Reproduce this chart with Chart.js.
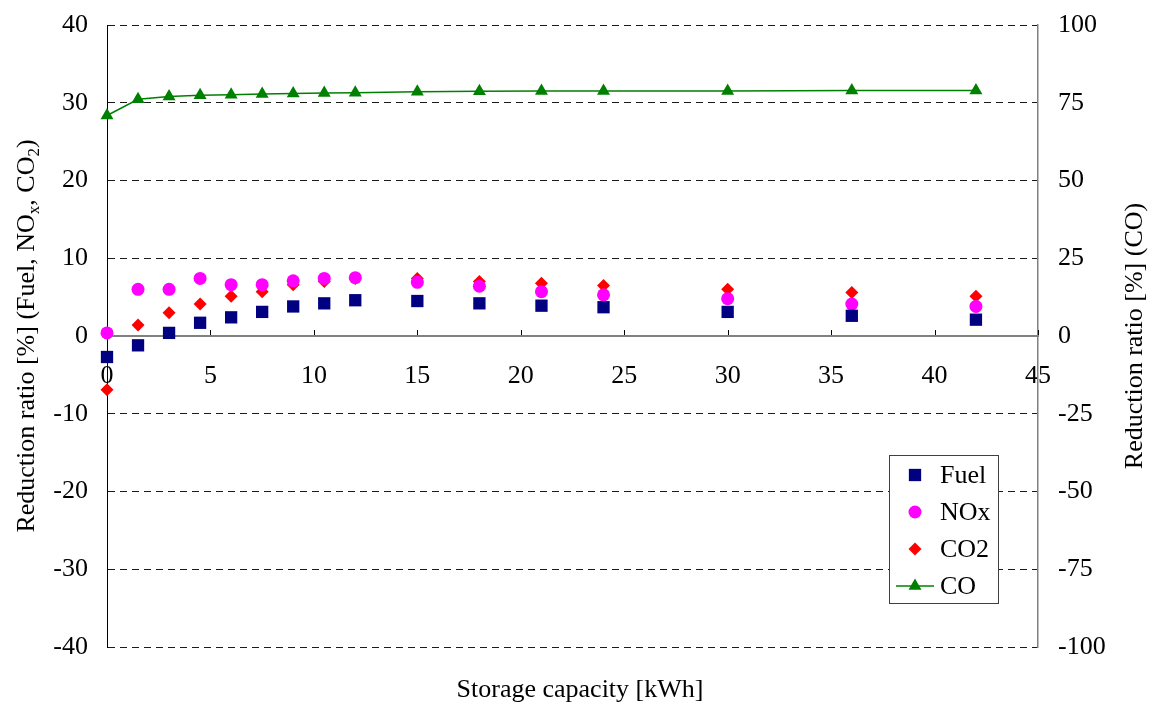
<!DOCTYPE html>
<html>
<head>
<meta charset="utf-8">
<title>Reduction ratio vs storage capacity</title>
<script src="https://cdn.jsdelivr.net/npm/chart.js@4/dist/chart.umd.min.js"></script>
<style>
  html, body { margin: 0; padding: 0; background: #fff; }
  canvas { display: block; }
</style>
</head>
<body>
<canvas id="chart" width="1153" height="708"></canvas>
<script>
// Storage capacity [kWh]
const capacity = [0, 1.5, 3, 4.5, 6, 7.5, 9, 10.5, 12, 15, 18, 21, 24, 30, 36, 42];
// Reduction ratios [%], left axis
const fuel = [-2.7, -1.2, 0.4, 1.7, 2.4, 3.1, 3.8, 4.2, 4.6, 4.5, 4.2, 3.9, 3.7, 3.1, 2.6, 2.1];
const nox  = [0.4, 6.0, 6.0, 7.4, 6.6, 6.6, 7.1, 7.4, 7.5, 6.9, 6.4, 5.7, 5.3, 4.8, 4.1, 3.8];
const co2  = [-6.9, 1.4, 3.0, 4.1, 5.1, 5.7, 6.6, 7.0, 7.4, 7.4, 7.0, 6.8, 6.5, 6.0, 5.6, 5.1];
// Reduction ratio [%], right axis
const co   = [70.9, 76.1, 77.0, 77.4, 77.6, 77.8, 78.0, 78.1, 78.2, 78.5, 78.7, 78.8, 78.8, 78.8, 78.9, 78.9];

// Axis ranges and tick spacing
const xRange = [0, 45, 5];
const leftRange = [-40, 40, 10];
const rightRange = [-100, 100, 25];

// Text
const seriesNames = ['Fuel', 'NOx', 'CO2', 'CO'];
const xTitle = 'Storage capacity [kWh]';
const leftTitle = [
  { t: 'Reduction ratio [%] (Fuel, NO' }, { t: 'x', sub: true },
  { t: ', CO' }, { t: '2', sub: true }, { t: ')' }
];
const rightTitle = [{ t: 'Reduction ratio [%] (CO)' }];

const FONT = '"Liberation Serif", "Times New Roman", serif';
const FS = 26;

const pts = (ys) => capacity.map((x, i) => ({ x: x, y: ys[i] }));

// Point drawing (library helper, with a tiny fallback)
function drawMarker(ctx, style, r, x, y) {
  if (Chart.helpers && Chart.helpers.drawPoint) {
    Chart.helpers.drawPoint(ctx, { pointStyle: style, radius: r, rotation: 0, borderWidth: 0 }, x, y);
    return;
  }
  ctx.beginPath();
  if (style === 'rect') { const s = r * Math.SQRT1_2; ctx.rect(x - s, y - s, 2 * s, 2 * s); }
  else if (style === 'rectRot') { ctx.moveTo(x - r, y); ctx.lineTo(x, y - r); ctx.lineTo(x + r, y); ctx.lineTo(x, y + r); ctx.closePath(); }
  else if (style === 'triangle') { ctx.moveTo(x, y - r); ctx.lineTo(x + r * 0.866, y + r / 2); ctx.lineTo(x - r * 0.866, y + r / 2); ctx.closePath(); }
  else { ctx.arc(x, y, r, 0, Math.PI * 2); }
  ctx.fill();
}

// Draws a run of text segments with subscripts, centred on the origin, baseline at y = 0
function drawRich(ctx, segs) {
  const subSize = Math.round(FS * 0.65);
  const fontFor = (s) => (s.sub ? subSize : FS) + 'px ' + FONT;
  let total = 0;
  segs.forEach(s => { ctx.font = fontFor(s); total += ctx.measureText(s.t).width; });
  let x = -total / 2;
  ctx.textAlign = 'left';
  ctx.textBaseline = 'alphabetic';
  segs.forEach(s => {
    ctx.font = fontFor(s);
    ctx.fillText(s.t, x, s.sub ? 5 : 0);
    x += ctx.measureText(s.t).width;
  });
}

// Axis titles
const titlesPlugin = {
  id: 'axisTitles',
  afterDraw(chart) {
    const ctx = chart.ctx;
    const area = chart.chartArea;
    const midY = (area.top + area.bottom) / 2;
    ctx.save();
    ctx.fillStyle = '#000';
    ctx.font = FS + 'px ' + FONT;
    ctx.textAlign = 'center';
    ctx.textBaseline = 'alphabetic';
    ctx.fillText(xTitle, 580, 697);

    ctx.save();
    ctx.translate(34, midY);
    ctx.rotate(-Math.PI / 2);
    drawRich(ctx, leftTitle);
    ctx.restore();

    ctx.save();
    ctx.translate(1142, midY);
    ctx.rotate(-Math.PI / 2);
    drawRich(ctx, rightTitle);
    ctx.restore();
    ctx.restore();
  }
};

// Small upward tick marks on the x axis, which sits at y = 0
const xTickMarks = {
  id: 'xTickMarks',
  beforeDatasetsDraw(chart) {
    const xs = chart.scales.x;
    const y0 = Math.round(chart.scales.y.getPixelForValue(0));
    const ctx = chart.ctx;
    ctx.save();
    ctx.strokeStyle = '#000';
    ctx.lineWidth = 1;
    ctx.beginPath();
    xs.ticks.forEach(t => {
      if (t.value <= xRange[0]) return;
      const px = Math.round(xs.getPixelForValue(t.value)) + 0.5;
      ctx.moveTo(px, y0 - 1);
      ctx.lineTo(px, y0 - 6);
    });
    ctx.stroke();
    ctx.restore();
  }
};

// Boxed legend inside the plot
const insetLegend = {
  id: 'insetLegend',
  afterDraw(chart) {
    const ctx = chart.ctx;
    const bx = 889.5, by = 455.5, bw = 109, bh = 148;
    const rows = [475, 512, 549, 586];
    const mx = 915, tx = 940;
    ctx.save();
    ctx.fillStyle = '#fff';
    ctx.fillRect(bx, by, bw, bh);
    ctx.strokeStyle = '#404040';
    ctx.lineWidth = 1;
    ctx.strokeRect(bx, by, bw, bh);
    chart.data.datasets.forEach((ds, i) => {
      const y = rows[i];
      if (ds.showLine) {
        ctx.strokeStyle = ds.borderColor;
        ctx.lineWidth = ds.borderWidth;
        ctx.beginPath();
        ctx.moveTo(mx - 19, y);
        ctx.lineTo(mx + 19, y);
        ctx.stroke();
      }
      ctx.fillStyle = ds.backgroundColor;
      drawMarker(ctx, ds.pointStyle, ds.pointRadius, mx, y);
      ctx.fillStyle = '#000';
      ctx.font = FS + 'px ' + FONT;
      ctx.textAlign = 'left';
      ctx.textBaseline = 'middle';
      ctx.fillText(ds.label, tx, y + 1);
    });
    ctx.restore();
  }
};

// Keep the value axes from pushing the plot edges inward for their end labels
const noEndPadding = (s, width) => {
  s.width = width;
  s.paddingTop = 0;
  s.paddingBottom = 0;
};

new Chart(document.getElementById('chart'), {
  type: 'scatter',
  data: {
    datasets: [
      { label: seriesNames[0], data: pts(fuel), yAxisID: 'y', showLine: false, clip: false,
        pointStyle: 'rect', pointRadius: 8.7, backgroundColor: '#000080', borderColor: '#000080', pointBorderWidth: 0 },
      { label: seriesNames[1], data: pts(nox), yAxisID: 'y', showLine: false, clip: false,
        pointStyle: 'circle', pointRadius: 6.5, backgroundColor: '#ff00ff', borderColor: '#ff00ff', pointBorderWidth: 0 },
      { label: seriesNames[2], data: pts(co2), yAxisID: 'y', showLine: false, clip: false,
        pointStyle: 'rectRot', pointRadius: 6.5, backgroundColor: '#ff0000', borderColor: '#ff0000', pointBorderWidth: 0 },
      { label: seriesNames[3], data: pts(co), yAxisID: 'y1', showLine: true, clip: false, tension: 0,
        pointStyle: 'triangle', pointRadius: 7.5, backgroundColor: '#008000', borderColor: '#008000',
        borderWidth: 1.5, pointBorderWidth: 0 }
    ]
  },
  options: {
    responsive: false,
    animation: false,
    events: [],
    devicePixelRatio: 1,
    layout: { padding: { top: 25, bottom: 61, left: 0, right: 0 } },
    plugins: { legend: { display: false }, tooltip: { enabled: false }, title: { display: false } },
    scales: {
      x: {
        type: 'linear',
        position: { y: 0 },
        min: xRange[0], max: xRange[1],
        ticks: { stepSize: xRange[2], maxRotation: 0, autoSkip: false, padding: 25, color: '#000',
                 font: { family: FONT, size: FS } },
        grid: { display: true, drawOnChartArea: false, drawTicks: false },
        border: { display: true, color: '#808080', width: 2 }
      },
      y: {
        type: 'linear',
        position: 'left',
        min: leftRange[0], max: leftRange[1],
        ticks: { stepSize: leftRange[2], padding: 19, color: '#000', font: { family: FONT, size: FS } },
        grid: {
          drawTicks: false,
          lineWidth: 1,
          color: (c) => (c.tick && c.tick.value === 0) ? 'rgba(0,0,0,0)' : '#1a1a1a'
        },
        border: { display: true, color: '#000', width: 1, dash: [7, 5] },
        afterFit: (s) => noEndPadding(s, 107)
      },
      y1: {
        type: 'linear',
        position: 'right',
        min: rightRange[0], max: rightRange[1],
        ticks: { stepSize: rightRange[2], padding: 20, color: '#000', font: { family: FONT, size: FS } },
        grid: { drawOnChartArea: false, drawTicks: false },
        border: { display: true, color: '#808080', width: 1.5 },
        afterFit: (s) => noEndPadding(s, 115)
      }
    }
  },
  plugins: [xTickMarks, titlesPlugin, insetLegend]
});
</script>
</body>
</html>
